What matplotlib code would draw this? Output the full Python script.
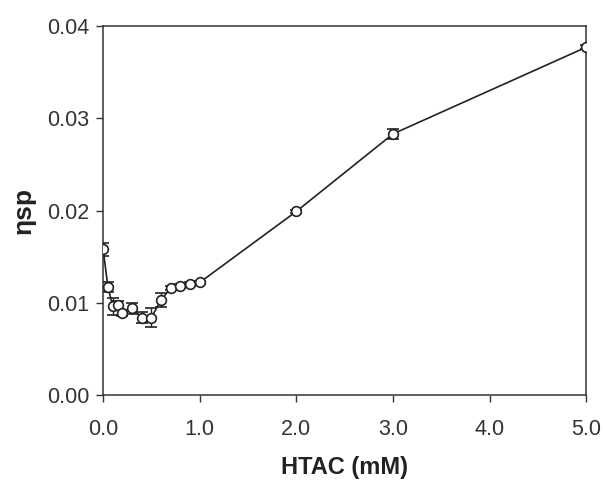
import matplotlib
matplotlib.use("Agg")
from matplotlib import pyplot as plt
from matplotlib.ticker import FormatStrFormatter

plt.rcParams['font.family'] = ['Liberation Sans', 'DejaVu Sans']

# HTAC concentration (mM) and specific viscosity
htac = [0.0, 0.05, 0.1, 0.15, 0.2, 0.3, 0.4, 0.5, 0.6, 0.7, 0.8, 0.9, 1.0, 2.0, 3.0, 5.0]
eta_sp = [0.0158, 0.0117, 0.0096, 0.0098, 0.0089, 0.0094, 0.0084, 0.0084,
          0.0103, 0.0116, 0.0118, 0.0120, 0.0122, 0.0199, 0.0283, 0.0377]
err = [0.0007, 0.0005, 0.0009, 0.0004, 0.0003, 0.0006, 0.0006, 0.0010,
       0.0008, 0.0002, 0.0002, 0.0002, 0.0002, 0.0002, 0.0005, 0.0002]

xticks = [0.0, 1.0, 2.0, 3.0, 4.0, 5.0]
yticks = [0.00, 0.01, 0.02, 0.03, 0.04]

fig = plt.figure(figsize=(6.03, 4.82), dpi=100)
ax = fig.add_axes([0.171, 0.1805, 0.801, 0.7655])

ax.errorbar(htac, eta_sp, yerr=err, color='#222222', lw=1.2, marker='o',
            ms=7, mfc='white', mec='#222222', mew=1.2, capsize=4,
            elinewidth=1.0, capthick=1.0, zorder=3)

ax.set_xlim(0, 5.0)
ax.set_ylim(0, 0.04)
ax.set_xticks(xticks)
ax.set_yticks(yticks)
ax.xaxis.set_major_formatter(FormatStrFormatter('%.1f'))
ax.yaxis.set_major_formatter(FormatStrFormatter('%.2f'))
ax.tick_params(direction='out', length=5, width=1, labelsize=15.5,
               colors='#333333')
ax.tick_params(axis='x', pad=12)
ax.tick_params(axis='y', pad=5)
for s in ax.spines.values():
    s.set_linewidth(1.1)
    s.set_color('#333333')

ax.set_xlabel('HTAC (mM)', fontsize=17, fontweight='bold', color='#222222', labelpad=12)
ax.set_ylabel('ηsp', fontsize=19, fontweight='bold', color='#222222', labelpad=8)

fig.savefig('out.png', dpi=100)
